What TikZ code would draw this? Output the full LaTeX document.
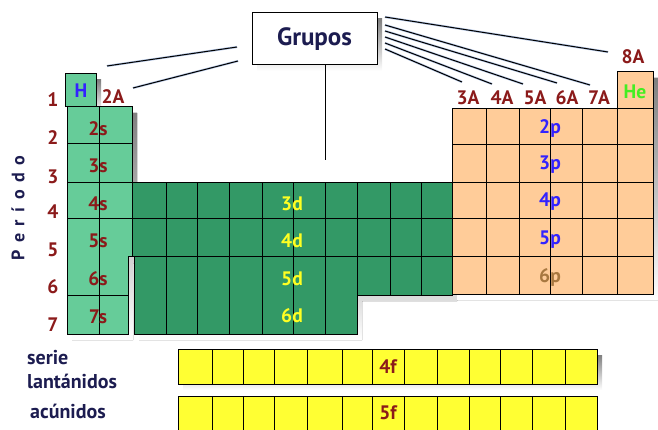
\documentclass[tikz,border=0pt]{standalone}
\usepackage{fontspec}
\setmainfont{PT Sans}
\definecolor{sgreen}{HTML}{66CC99}
\definecolor{dgreen}{HTML}{339966}
\definecolor{peach}{HTML}{FFCC99}
\definecolor{fyel}{HTML}{FFFF33}
\definecolor{labred}{HTML}{8B1A1A}
\definecolor{dlab}{HTML}{FFFF22}
\definecolor{plab}{HTML}{3322FF}
\definecolor{sixp}{HTML}{A87840}
\definecolor{helab}{HTML}{44EE22}
\definecolor{navy}{HTML}{1C1C50}
\definecolor{shade}{HTML}{B4BDCC}
\definecolor{lshade}{HTML}{B4C7E6}
\begin{document}
\begin{tikzpicture}[x=1pt,y=-1pt,
  cell/.style={draw=black,line width=1pt},
  lab/.style={font=\bfseries\fontsize{19.5}{19.5}\selectfont,inner sep=0pt},
  slab/.style={lab,text=labred},
  dlabel/.style={lab,text=dlab},
  plabel/.style={lab,text=plab},
  flabel/.style={lab,text=labred},
  grp/.style={lab,text=labred},
  per/.style={lab,text=labred},
  side/.style={font=\bfseries\fontsize{20}{20}\selectfont,text=navy,inner sep=0pt,anchor=west},
  conn/.style={draw=black,line width=1pt},
  connsh/.style={draw=lshade,line width=2.2pt}]
\useasboundingbox (0,0) rectangle (658,430);

% ---------- shadows ----------
\begin{scope}[shift={(5,6)}]
  \fill[shade] (65,74) rectangle (96,107);
  \fill[shade] (67,107) -- (132,107) -- (132,257) -- (128,257) -- (128,334) -- (67,334) -- cycle;
  \fill[shade] (132,183) -- (452,183) -- (452,295) -- (357,295) -- (357,334) -- (134,334) -- (134,257) -- (132,257) -- cycle;
  \fill[shade] (452,109) -- (617,109) -- (617,72) -- (653,72) -- (653,294) -- (452,294) -- cycle;
  \fill[shade] (178,349) rectangle (597,384);
  \fill[shade] (252,13) rectangle (377,65);
\end{scope}

% ---------- s block ----------
\fill[sgreen] (65,74) rectangle (96,107);
\draw[cell] (65,74) rectangle (96,107);
\fill[sgreen] (67,107) -- (132,107) -- (132,257) -- (128,257) -- (128,334) -- (67,334) -- cycle;
\draw[cell] (67,107) -- (132,107) -- (132,257) -- (128,257) -- (128,334) -- (67,334) -- cycle;
\draw[cell] (99,107) -- (99,334);
\foreach \y in {144,183,219} \draw[cell] (67,\y) -- (132,\y);
\draw[cell] (67,295) -- (128,295);

% ---------- d block ----------
\fill[dgreen] (132,183) -- (452,183) -- (452,295) -- (357,295) -- (357,334) -- (134,334) -- (134,257) -- (132,257) -- cycle;
\draw[cell] (132,183) -- (452,183) -- (452,295) -- (357,295) -- (357,334) -- (134,334) -- (134,257) -- (132,257) -- cycle;
\foreach \x in {166,197,229,262,293,325} \draw[cell] (\x,183) -- (\x,334);
\foreach \x in {357,390,421} \draw[cell] (\x,183) -- (\x,295);
\draw[cell] (132,219) -- (452,219);
\draw[cell] (132,257) -- (452,257);

% ---------- p block ----------
\fill[peach] (452,109) -- (617,109) -- (617,72) -- (653,72) -- (653,294) -- (452,294) -- cycle;
\draw[cell] (452,109) -- (617,109) -- (617,72) -- (653,72) -- (653,294) -- (452,294) -- cycle;
\foreach \x in {486,519,550,582,617} \draw[cell] (\x,109) -- (\x,294);
\draw[cell] (617,109) -- (653,109);
\foreach \y in {145,183,219,257} \draw[cell] (452,\y) -- (653,\y);

% ---------- f block ----------
\foreach \yt/\yb in {349/384,396/432} {
  \fill[fyel] (178,\yt) rectangle (597,\yb);
  \draw[cell] (178,\yt) rectangle (597,\yb);
  \foreach \x in {212,243,274,307,342,372,404,437,469,500,532,565} \draw[cell] (\x,\yt) -- (\x,\yb);
}

% ---------- cell labels ----------
\node[lab,text=plab] (H) at (81,91) {H};
\node[lab,text=helab] (He) at (635,92) {He};
\node[slab] (s2) at (98,129) {2s};
\node[slab] (s3) at (98,166) {3s};
\node[slab] (s4) at (98,204) {4s};
\node[slab] (s5) at (98,241) {5s};
\node[slab] (s6) at (98,279) {6s};
\node[slab] (s7) at (98,317) {7s};
\node[dlabel] (d3) at (292,204) {3d};
\node[dlabel] (d4) at (292,241) {4d};
\node[dlabel] (d5) at (292,279) {5d};
\node[dlabel] (d6) at (292,316) {6d};
\node[plabel] (p2) at (550,128) {2p};
\node[plabel] (p3) at (550,165) {3p};
\node[plabel] (p4) at (550,202) {4p};
\node[plabel] (p5) at (550,240) {5p};
\node[lab,text=sixp] (p6) at (550,277) {6p};
\node[flabel] (f4) at (388,367) {4f};
\node[flabel] (f5) at (388,413) {5f};

% ---------- group labels ----------
\node[grp] (g2) at (113,97) {2A};
\node[grp] (g3) at (468,98) {3A};
\node[grp] (g4) at (502,98) {4A};
\node[grp] (g5) at (535,98) {5A};
\node[grp] (g6) at (567,98) {6A};
\node[grp] (g7) at (599,98) {7A};
\node[grp] (g8) at (633,57) {8A};

% ---------- period numbers ----------
\node[per] (n1) at (53,100) {1};
\node[per] (n2) at (53,138) {2};
\node[per] (n3) at (53,177) {3};
\node[per] (n4) at (53,212) {4};
\node[per] (n5) at (53,250) {5};
\node[per] (n6) at (53,287) {6};
\node[per] (n7) at (53,325) {7};
\node[rotate=90,font=\bfseries\fontsize{18}{18}\selectfont\addfontfeature{LetterSpace=42},text=navy,inner sep=0pt] (periodo) at (18,208) {Período};

% ---------- side texts ----------
\node[side] (serie) at (27,358) {serie};
\node[side] (lant) at (27,381) {lantánidos};
\node[side] (acun) at (30,411) {acúnidos};

% ---------- Grupos box and connectors ----------
\node[draw=black,line width=1pt,fill=white,minimum width=125pt,minimum height=52pt,inner sep=0pt,
      font=\bfseries\fontsize{25}{25}\selectfont,text=navy] (grupos) at (314.5,39) {Grupos};

\coordinate (l1a) at (237,47);  \coordinate (l1b) at (107,66);
\coordinate (l2a) at (238,61);  \coordinate (l2b) at (133,88);
\coordinate (r8a) at (385,17);  \coordinate (r8b) at (608,52);
\coordinate (r7a) at (385,25);  \coordinate (r7b) at (590,85);
\coordinate (r6a) at (385,31);  \coordinate (r6b) at (557,83);
\coordinate (r5a) at (385,37);  \coordinate (r5b) at (523,84);
\coordinate (r4a) at (385,43);  \coordinate (r4b) at (492,84);
\coordinate (r3a) at (385,49);  \coordinate (r3b) at (462,82);
\coordinate (vtop) at (325,65); \coordinate (vbot) at (325,160);

\begin{scope}[shift={(8,8)}]
  \foreach \a/\b in {l1a/l1b,l2a/l2b,r8a/r8b,r7a/r7b,r6a/r6b,r5a/r5b,r4a/r4b,r3a/r3b}
    \draw[connsh] (\a) -- (\b);
\end{scope}
\foreach \a/\b in {l1a/l1b,l2a/l2b,r8a/r8b,r7a/r7b,r6a/r6b,r5a/r5b,r4a/r4b,r3a/r3b}
  \draw[conn] (\a) -- (\b);
\draw[conn] (vtop) -- (vbot);
\end{tikzpicture}
\end{document}
